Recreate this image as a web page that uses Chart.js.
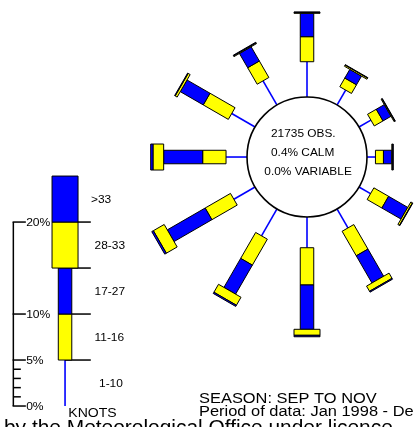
<!DOCTYPE html>
<html>
<head>
<meta charset="utf-8">
<script src="https://cdn.jsdelivr.net/npm/chart.js@4.4.0/dist/chart.umd.min.js"></script>
<style>
  html, body { margin: 0; padding: 0; background: #fff; overflow: hidden; }
  canvas { display: block; }
</style>
</head>
<body>
<canvas id="rose" width="414" height="427"></canvas>
<script>
// Wind direction (degrees clockwise from north) and % frequency for each speed class (knots)
const directions  = [0, 30, 60, 90, 120, 150, 180, 210, 240, 270, 300, 330];
const speed1to10  = [3.84, 1.88, 1.50, 0.92, 1.45, 2.38, 3.34, 3.37, 2.66, 2.28, 2.93, 3.04];
const speed11to16 = [2.72, 1.09, 1.10, 0.87, 1.85, 3.08, 4.05, 3.26, 3.18, 2.54, 3.15, 2.07];
const speed17to27 = [2.54, 1.09, 1.00, 0.91, 2.40, 3.41, 4.82, 3.64, 4.75, 4.24, 2.88, 1.79];
const speed28to33 = [0.10, 0.15, 0.10, 0.10, 0.20, 0.65, 0.65, 1.00, 1.36, 1.16, 0.25, 0.10];
const speedOver33 = [0.05, 0.05, 0.05, 0.05, 0.05, 0.11, 0.16, 0.15, 0.20, 0.25, 0.07, 0.07];

// Speed key
const speedClasses   = ['1-10', '11-16', '17-27', '28-33', '>33'];
const keyBandWidth   = [5, 5, 5, 5, 5];
const keyTickValues  = [0, 5, 10, 20];
const keyTickLabels  = ['0%', '5%', '10%', '20%'];
const keyMinorTicks  = [1, 2, 3, 4];

// Summary figures
const observations = 21735;
const calmPct      = 0.4;
const variablePct  = 0.0;

const seasonText = 'SEASON: SEP TO NOV';
const periodText = 'Period of data: Jan 1998 - Dec';
const creditText = 'by the Meteorological Office under licence';

// ---- styling / layout ----
const YELLOW = '#ffff00';
const BLUE   = '#0000ff';
const FONT   = '"Liberation Sans", Arial, Helvetica, sans-serif';
const classColor = [BLUE, YELLOW, BLUE, YELLOW, BLUE];
const classWidth = [0, 13.5, 13.5, 26, 26];    // px; 0 = drawn as a thin stem
const RING = 6.52;                              // calm circle radius, in % units
const KEY_X = -26.3, KEY_BASE = -27.07, KEY_AXIS_X = -31.92, KEY_LINE_END = -23.5;
const keyLabelLeft = [99, 94.5, 94.5, 94.5, 91]; // px

const series = [speed1to10, speed11to16, speed17to27, speed28to33, speedOver33];

function polar(ox, oy, deg, r) {
  const a = deg * Math.PI / 180;
  return { x: ox + r * Math.sin(a), y: oy + r * Math.cos(a) };
}

// Stems (lightest class) as line datasets
const stemSets = directions.map((d, i) => ({
  data: [polar(0, 0, d, RING), polar(0, 0, d, RING + speed1to10[i])],
  showLine: true, borderColor: BLUE, borderWidth: 1.6, pointRadius: 0
}));
stemSets.push({
  data: [polar(KEY_X, KEY_BASE, 0, 0), polar(KEY_X, KEY_BASE, 0, keyBandWidth[0])],
  showLine: true, borderColor: BLUE, borderWidth: 1.6, pointRadius: 0
});

function drawBar(ctx, xs, ys, ox, oy, deg, r1, r2, width, color) {
  const p1 = polar(ox, oy, deg, r1), p2 = polar(ox, oy, deg, r2);
  const x1 = xs.getPixelForValue(p1.x), y1 = ys.getPixelForValue(p1.y);
  const x2 = xs.getPixelForValue(p2.x), y2 = ys.getPixelForValue(p2.y);
  const a = deg * Math.PI / 180;
  const nx = Math.cos(a) * width / 2, ny = Math.sin(a) * width / 2;
  ctx.beginPath();
  ctx.moveTo(x1 + nx, y1 + ny);
  ctx.lineTo(x2 + nx, y2 + ny);
  ctx.lineTo(x2 - nx, y2 - ny);
  ctx.lineTo(x1 - nx, y1 - ny);
  ctx.closePath();
  ctx.fillStyle = color;
  ctx.fill();
  ctx.lineWidth = 1;
  ctx.strokeStyle = '#000';
  ctx.stroke();
}

function text(ctx, str, x, y, size, stretch, align) {
  ctx.save();
  ctx.font = size + 'px ' + FONT;
  ctx.textAlign = align || 'left';
  ctx.textBaseline = 'alphabetic';
  ctx.fillStyle = '#000';
  ctx.translate(x, y);
  ctx.scale(stretch, 1);
  ctx.fillText(str, 0, 0);
  ctx.restore();
}

function line(ctx, x1, y1, x2, y2, w, color) {
  ctx.beginPath();
  ctx.moveTo(x1, y1);
  ctx.lineTo(x2, y2);
  ctx.lineWidth = w;
  ctx.strokeStyle = color;
  ctx.stroke();
}

const rosePlugin = {
  id: 'windRose',
  afterDatasetsDraw(chart) {
    const ctx = chart.ctx;
    const xs = chart.scales.x, ys = chart.scales.y;
    const cx = xs.getPixelForValue(0), cy = ys.getPixelForValue(0);
    const rPx = xs.getPixelForValue(RING) - cx;
    ctx.save();

    // calm circle
    ctx.beginPath();
    ctx.arc(cx, cy, rPx, 0, Math.PI * 2);
    ctx.fillStyle = '#fff';
    ctx.fill();
    ctx.lineWidth = 1.6;
    ctx.strokeStyle = '#000';
    ctx.stroke();

    // petals
    directions.forEach((d, i) => {
      let r = RING + series[0][i];
      for (let k = 1; k < series.length; k++) {
        const v = series[k][i];
        drawBar(ctx, xs, ys, 0, 0, d, r, r + v, classWidth[k], classColor[k]);
        r += v;
      }
    });

    // centre text
    text(ctx, observations + ' OBS.', cx - 36, cy - 20.2, 10.5, 1.13);
    text(ctx, calmPct.toFixed(1) + '% CALM', cx - 36, cy - 1, 10.5, 1.13);
    text(ctx, variablePct.toFixed(1) + '% VARIABLE', cx - 42.7, cy + 18, 10.5, 1.13);

    // ---- speed key ----
    const axX = xs.getPixelForValue(KEY_AXIS_X);
    const lvl = v => ys.getPixelForValue(KEY_BASE + v);
    const lineEnd = xs.getPixelForValue(KEY_LINE_END);
    const keyCx = xs.getPixelForValue(KEY_X);

    line(ctx, axX, lvl(0), axX, lvl(20), 1.5, '#000');
    keyMinorTicks.forEach(v => line(ctx, axX, lvl(v), axX + 7.5, lvl(v), 1.5, '#000'));
    keyTickValues.forEach((v, i) => {
      line(ctx, axX - 0.75, lvl(v), axX + 12.5, lvl(v), 1.5, '#000');
      text(ctx, keyTickLabels[i], axX + 12.8, lvl(v) + 3.9, 11, 1.1);
    });

    // class boundaries
    let cum = 0;
    const bounds = [];
    keyBandWidth.forEach(w => { cum += w; bounds.push(cum); });
    bounds.slice(0, -1).forEach(v => line(ctx, keyCx, lvl(v), lineEnd, lvl(v), 1.5, '#000'));

    let r = keyBandWidth[0];
    for (let k = 1; k < keyBandWidth.length; k++) {
      drawBar(ctx, xs, ys, KEY_X, KEY_BASE, 0, r, r + keyBandWidth[k], classWidth[k], classColor[k]);
      r += keyBandWidth[k];
    }

    let base = 0;
    speedClasses.forEach((lab, k) => {
      const mid = lvl(base + keyBandWidth[k] / 2);
      text(ctx, lab, keyLabelLeft[k], mid + 4.2, 11.6, 1.03);
      base += keyBandWidth[k];
    });
    text(ctx, 'KNOTS', 68.3, 416.7, 12, 1.17);

    // footer
    text(ctx, seasonText, 199, 402.7, 15.5, 1.06);
    text(ctx, periodText, 199, 415.7, 15.5, 1.06);
    text(ctx, creditText, 4, 433.5, 20, 1.045);

    ctx.restore();
  }
};

new Chart(document.getElementById('rose'), {
  type: 'scatter',
  data: { datasets: stemSets },
  options: {
    responsive: false,
    animation: false,
    events: [],
    layout: { padding: 0 },
    plugins: { legend: { display: false }, tooltip: { enabled: false } },
    scales: {
      x: { type: 'linear', min: -33.37, max: 11.63, display: false },
      y: { type: 'linear', min: -29.35, max: 17.07, display: false }
    }
  },
  plugins: [rosePlugin]
});
</script>
</body>
</html>
